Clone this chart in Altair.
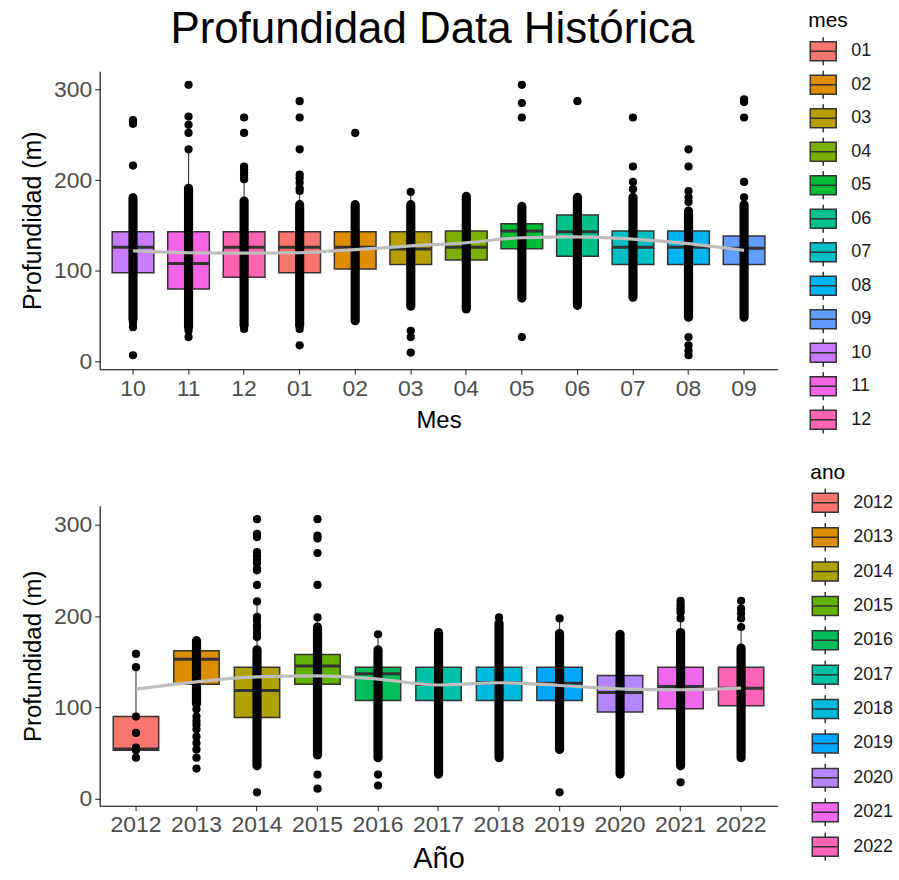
import altair as alt
import pandas as pd

# ---------------- top panel (by month) ----------------
mes_cats = ["10", "11", "12", "01", "02", "03", "04", "05", "06", "07", "08", "09"]
mes_legend = ["01", "02", "03", "04", "05", "06", "07", "08", "09", "10", "11", "12"]
mes_colors = ["#F8766D", "#DE8C00", "#B79F00", "#7CAE00", "#00BA38", "#00C08B",
              "#00BFC4", "#00B4F0", "#619CFF", "#C77CFF", "#F564E3", "#FF64B0"]
mes_q1 = [98, 80, 93, 98, 102, 107, 112, 124.5, 116, 107, 107, 107]
mes_med = [126, 108, 126, 126, 126, 124, 126, 144, 143, 126, 126, 125]
mes_q3 = [143, 143, 143, 143, 143, 143, 144, 152, 161.5, 144, 144, 138.5]
mes_wlo = [38, 27, 36, 36, 45, 61, 58, 70, 62, 71, 49, 49]
mes_whi = [181, 234, 199, 206, 173, 187, 182, 171, 181, 198, 188, 181]
mes_dense_cat = ["10", "11", "12", "01", "02", "03", "04", "05", "06", "07", "08", "09"]
mes_dense_lo = [46, 38, 40, 40, 45, 61, 58, 70, 62, 71, 49, 49]
mes_dense_hi = [180, 191, 177, 173, 173, 173, 182, 171, 181, 181, 166, 173]
mes_points = [
    [266, 262, 216, 181, 43, 38, 7],
    [305, 270, 261, 252, 234, 34, 27],
    [269, 252, 215, 212, 208, 205, 201, 36],
    [287, 269, 234, 206, 202, 197, 191, 188, 36, 18],
    [252],
    [187, 34, 27, 10],
    [],
    [305, 285, 269, 27],
    [287],
    [269, 215, 198, 190],
    [234, 215, 188, 181, 176, 27, 18, 12, 7],
    [289, 286, 269, 198, 181],
]
mes_smooth = [122, 120, 119.5, 120, 123.5, 127.5, 131, 136.5, 137.5, 135, 130, 122.5]

# ---------------- bottom panel (by year) ----------------
ano_cats = ["2012", "2013", "2014", "2015", "2016", "2017", "2018", "2019", "2020", "2021", "2022"]
ano_colors = ["#F8766D", "#DB8E00", "#AEA200", "#64B200", "#00BD5C", "#00C1A7",
              "#00BADE", "#00A6FF", "#B385FF", "#EF67EB", "#FF63B6"]
ano_q1 = [53, 125.4, 89, 125.4, 107.6, 107.6, 107.6, 107.6, 95, 98.5, 101.8]
ano_med = [54.5, 152.7, 118.5, 145.4, 136.7, 125, 127, 126.5, 116.3, 123, 121]
ano_q3 = [90, 162, 144, 158, 144, 144, 144, 144, 135, 144, 144]
ano_wlo = [45, 76, 36, 48, 45, 27, 45, 54, 27, 36, 45]
ano_whi = [144, 173, 216, 199, 180, 182, 199, 197, 180, 197, 188]
ano_dense_cat = ["2013", "2014", "2015", "2016", "2017", "2018", "2019", "2020", "2021", "2022"]
ano_dense_lo = [104, 36, 48, 45, 27, 45, 54, 27, 36, 45]
ano_dense_hi = [173, 163, 188, 163, 182, 192, 181, 180, 182, 165]
ano_points = [
    [158.5, 144, 90, 72, 56, 53, 45],
    [98, 90, 85, 81, 76, 68, 61, 54, 45, 33],
    [306, 290, 286.5, 270, 266, 262, 258, 252, 250, 234, 216, 199, 195, 190, 186, 181, 177, 7],
    [306, 288, 285, 269, 234, 198.5, 26.5, 11],
    [180, 26.5, 14.5],
    [],
    [198.5],
    [197.4, 7],
    [],
    [216.7, 213, 210, 207, 204, 197.4, 18],
    [216.7, 208, 203, 197.4, 188],
]
ano_smooth = [120, 128, 133.5, 134.5, 131, 124.5, 127, 124, 120.3, 119.3, 121]

FONT = "Liberation Sans"
KEY_PATH = "M-0.93,-0.68H0.93V0.68H-0.93Z M0,-0.68V-1 M0,0.68V1 M-0.93,0H0.93"


def panel(field, cats, legend_order, colors, q1, med, q3, wlo, whi,
          dcat, dlo, dhi, points, smooth, xtitle, xtitle_size, ytitle_size,
          width, height, ydomain, tick_w, leg_x, leg_y, leg_row):
    box = pd.DataFrame({field: cats, "q1": q1, "med": med, "q3": q3, "wlo": wlo, "whi": whi})
    dense = pd.DataFrame({field: dcat, "lo": dlo, "hi": dhi})
    pts = pd.DataFrame([(c, v) for c, vs in zip(cats, points) for v in vs], columns=[field, "v"])
    smo = pd.DataFrame({field: cats, "v": smooth})

    x = alt.X(f"{field}:N", sort=cats, title=xtitle,
              scale=alt.Scale(paddingInner=0, paddingOuter=0.1),
              axis=alt.Axis(labelAngle=0, titleFontSize=xtitle_size, titlePadding=8))
    yscale = alt.Scale(domain=ydomain, nice=False, zero=False)
    yaxis = alt.Axis(values=[0, 100, 200, 300], titleFontSize=ytitle_size, titlePadding=8)

    whisk = alt.Chart(box).mark_rule(color="#333333", strokeWidth=1.1).encode(
        x=x, y=alt.Y("wlo:Q", scale=yscale, axis=yaxis, title="Profundidad (m)"), y2="whi:Q")
    bars = alt.Chart(box).mark_bar(width=alt.RelativeBandSize(0.75), stroke="#333333",
                                   strokeWidth=1.5).encode(
        x=x, y=alt.Y("q1:Q", scale=yscale), y2="q3:Q",
        color=alt.Color(f"{field}:N",
                        scale=alt.Scale(domain=legend_order, range=colors),
                        legend=alt.Legend(title=field, orient="none", legendX=leg_x, legendY=leg_y,
                                          symbolType=KEY_PATH, symbolSize=784,
                                          symbolStrokeColor="#333333", symbolStrokeWidth=1.5,
                                          symbolOpacity=1,
                                          labelFontSize=18, titleFontSize=21, labelOffset=13,
                                          rowPadding=leg_row, titlePadding=5, padding=0,
                                          labelFont=FONT, titleFont=FONT, labelColor="#1A1A1A",
                                          titleColor="black", titleFontWeight="normal")))
    medians = alt.Chart(box).mark_tick(color="#333333", thickness=3, size=tick_w, opacity=1).encode(
        x=x, y=alt.Y("med:Q", scale=yscale))
    cols = alt.Chart(dense).mark_rule(color="black", strokeWidth=9.2, strokeCap="round").encode(
        x=x, y=alt.Y("lo:Q", scale=yscale), y2="hi:Q")
    dots = alt.Chart(pts).mark_circle(color="black", size=68, opacity=1).encode(
        x=x, y=alt.Y("v:Q", scale=yscale))
    line = alt.Chart(smo).mark_line(color="#BEBEBE", strokeWidth=3.2, interpolate="monotone").encode(
        x=x, y=alt.Y("v:Q", scale=yscale))
    return alt.layer(whisk, bars, medians, cols, dots, line).properties(width=width, height=height)


top = panel("mes", mes_cats, mes_legend, mes_colors, mes_q1, mes_med, mes_q3, mes_wlo, mes_whi,
            mes_dense_cat, mes_dense_lo, mes_dense_hi, mes_points, mes_smooth,
            "Mes", 24, 25, 680, 299, [-8.4, 320.0], 41.8, 711, -61, -0.4)
bottom = panel("ano", ano_cats, ano_cats, ano_colors, ano_q1, ano_med, ano_q3, ano_wlo, ano_whi,
               ano_dense_cat, ano_dense_lo, ano_dense_hi, ano_points, ano_smooth,
               "Año", 29, 24, 680, 301, [-7.7, 320.7], 45.5, 713, -44, 0.5)

chart = alt.vconcat(top, bottom, spacing=25).resolve_scale(
    color="independent", x="independent", y="independent"
).resolve_legend(color="independent").properties(
    title=alt.TitleParams("Profundidad Data Histórica", fontSize=44, font=FONT,
                          fontWeight="normal", color="black", anchor="middle",
                          offset=-41.5, dx=-25),
    padding={"left": 20, "top": 6, "right": 5, "bottom": 5},
).configure_view(stroke=None).configure_axis(
    domainColor="black", domainWidth=1.1, tickColor="#333333", tickWidth=1.1, tickSize=5,
    labelColor="#4D4D4D", labelFontSize=23, labelFont=FONT, titleFont=FONT,
    titleFontWeight="normal", titleColor="black", grid=False, labelPadding=3,
)

chart.save("out.html", embed_options={"renderer": "svg", "actions": False})
